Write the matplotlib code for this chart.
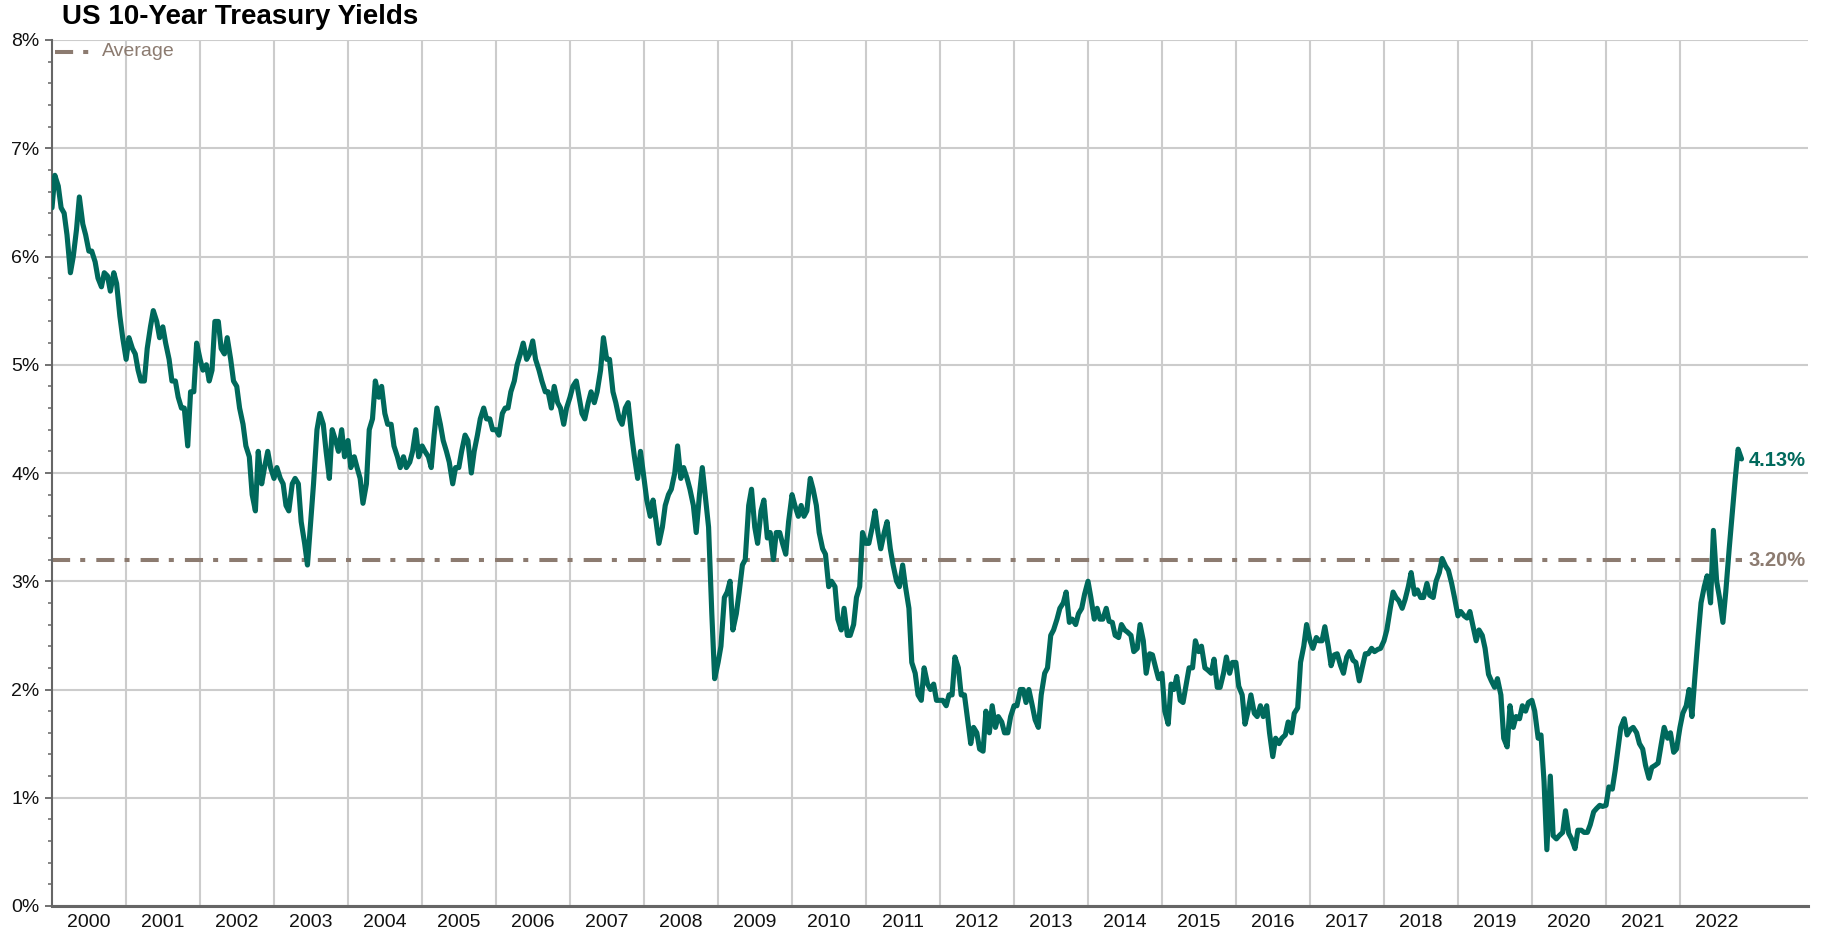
import matplotlib
matplotlib.use("Agg")
import matplotlib.pyplot as plt
from matplotlib.lines import Line2D
import pandas as pd

plt.rcParams['font.family'] = ['Liberation Sans', 'DejaVu Sans']

# ---------------- data (semi-monthly readings: 1st and 15th of each month) -------------
title_text = "US 10-Year Treasury Yields"
legend_label = "Average"
average_yield = 3.20
average_label = "3.20%"
last_label = "4.13%"

y2000 = [6.45, 6.75, 6.65, 6.45, 6.40, 6.20, 5.85, 6.00, 6.25, 6.55, 6.30, 6.20,
         6.05, 6.05, 5.95, 5.80, 5.72, 5.85, 5.82, 5.68, 5.85, 5.75, 5.45, 5.25]
y2001 = [5.05, 5.25, 5.15, 5.10, 4.95, 4.85, 4.85, 5.15, 5.35, 5.50, 5.40, 5.25,
         5.35, 5.20, 5.05, 4.85, 4.85, 4.70, 4.60, 4.60, 4.25, 4.75, 4.75, 5.20]
y2002 = [5.05, 4.95, 5.00, 4.85, 4.95, 5.40, 5.40, 5.15, 5.10, 5.25, 5.05, 4.85,
         4.80, 4.60, 4.45, 4.25, 4.15, 3.80, 3.65, 4.20, 3.90, 4.05, 4.20, 4.05]
y2003 = [3.95, 4.05, 3.95, 3.90, 3.70, 3.65, 3.90, 3.95, 3.90, 3.55, 3.35, 3.15,
         3.55, 3.90, 4.40, 4.55, 4.45, 4.20, 3.95, 4.40, 4.30, 4.20, 4.40, 4.15]
y2004 = [4.30, 4.05, 4.15, 4.05, 3.95, 3.72, 3.90, 4.40, 4.50, 4.85, 4.70, 4.80,
         4.55, 4.45, 4.45, 4.25, 4.15, 4.05, 4.15, 4.05, 4.10, 4.20, 4.40, 4.15]
y2005 = [4.25, 4.20, 4.15, 4.05, 4.35, 4.60, 4.45, 4.30, 4.20, 4.10, 3.90, 4.05,
         4.05, 4.20, 4.35, 4.30, 4.00, 4.20, 4.35, 4.50, 4.60, 4.50, 4.50, 4.40]
y2006 = [4.40, 4.35, 4.55, 4.60, 4.60, 4.75, 4.85, 5.00, 5.10, 5.20, 5.05, 5.10,
         5.22, 5.05, 4.95, 4.85, 4.75, 4.75, 4.60, 4.80, 4.65, 4.60, 4.45, 4.60]
y2007 = [4.70, 4.80, 4.85, 4.70, 4.55, 4.50, 4.65, 4.75, 4.65, 4.75, 4.95, 5.25,
         5.05, 5.05, 4.75, 4.65, 4.50, 4.45, 4.60, 4.65, 4.35, 4.15, 3.95, 4.20]
y2008 = [3.95, 3.75, 3.60, 3.75, 3.55, 3.35, 3.50, 3.70, 3.80, 3.85, 4.00, 4.25,
         3.95, 4.05, 3.95, 3.85, 3.70, 3.45, 3.80, 4.05, 3.75, 3.50, 2.70, 2.10]
y2009 = [2.25, 2.40, 2.85, 2.90, 3.00, 2.55, 2.70, 2.90, 3.15, 3.20, 3.70, 3.85,
         3.50, 3.35, 3.65, 3.75, 3.40, 3.45, 3.20, 3.45, 3.45, 3.35, 3.25, 3.55]
y2010 = [3.80, 3.70, 3.60, 3.70, 3.60, 3.65, 3.95, 3.85, 3.70, 3.45, 3.30, 3.25,
         2.95, 3.00, 2.95, 2.65, 2.55, 2.75, 2.50, 2.50, 2.60, 2.85, 2.95, 3.45]
y2011 = [3.35, 3.35, 3.50, 3.65, 3.45, 3.30, 3.45, 3.55, 3.30, 3.15, 3.00, 2.95,
         3.15, 2.95, 2.75, 2.25, 2.15, 1.95, 1.90, 2.20, 2.05, 2.00, 2.05, 1.90]
y2012 = [1.90, 1.90, 1.85, 1.95, 1.95, 2.30, 2.20, 1.95, 1.95, 1.75, 1.50, 1.65,
         1.60, 1.45, 1.43, 1.80, 1.60, 1.85, 1.65, 1.75, 1.70, 1.60, 1.60, 1.75]
y2013 = [1.85, 1.85, 2.00, 2.00, 1.88, 2.00, 1.85, 1.72, 1.65, 1.95, 2.15, 2.20,
         2.50, 2.55, 2.65, 2.75, 2.80, 2.90, 2.62, 2.65, 2.60, 2.70, 2.75, 2.88]
y2014 = [3.00, 2.85, 2.65, 2.75, 2.65, 2.65, 2.75, 2.63, 2.62, 2.50, 2.48, 2.60,
         2.55, 2.53, 2.50, 2.35, 2.38, 2.60, 2.45, 2.15, 2.33, 2.32, 2.20, 2.10]
y2015 = [2.15, 1.80, 1.68, 2.05, 2.00, 2.12, 1.90, 1.88, 2.05, 2.20, 2.20, 2.45,
         2.35, 2.40, 2.20, 2.18, 2.15, 2.28, 2.02, 2.02, 2.15, 2.30, 2.15, 2.25]
y2016 = [2.25, 2.03, 1.95, 1.68, 1.80, 1.95, 1.78, 1.75, 1.85, 1.75, 1.85, 1.60,
         1.38, 1.55, 1.50, 1.55, 1.58, 1.70, 1.60, 1.78, 1.83, 2.25, 2.40, 2.60]
y2017 = [2.45, 2.38, 2.48, 2.45, 2.45, 2.58, 2.40, 2.22, 2.32, 2.33, 2.22, 2.15,
         2.30, 2.35, 2.27, 2.25, 2.08, 2.20, 2.33, 2.33, 2.38, 2.35, 2.37, 2.38]
y2018 = [2.45, 2.55, 2.75, 2.90, 2.85, 2.82, 2.75, 2.83, 2.95, 3.08, 2.88, 2.92,
         2.85, 2.85, 2.98, 2.87, 2.85, 3.00, 3.08, 3.21, 3.14, 3.10, 2.98, 2.85]
y2019 = [2.68, 2.72, 2.68, 2.66, 2.72, 2.60, 2.45, 2.55, 2.50, 2.38, 2.14, 2.08,
         2.02, 2.10, 1.95, 1.55, 1.47, 1.85, 1.65, 1.75, 1.73, 1.85, 1.80, 1.88]
y2020 = [1.90, 1.80, 1.55, 1.58, 1.15, 0.52, 1.20, 0.65, 0.62, 0.65, 0.68, 0.88,
         0.67, 0.62, 0.53, 0.70, 0.70, 0.68, 0.68, 0.75, 0.87, 0.90, 0.93, 0.92]
y2021 = [0.93, 1.10, 1.08, 1.25, 1.45, 1.65, 1.73, 1.58, 1.63, 1.65, 1.60, 1.50,
         1.45, 1.30, 1.18, 1.28, 1.30, 1.32, 1.50, 1.65, 1.55, 1.60, 1.42, 1.45]
y2022 = [1.65, 1.78, 1.85, 2.00, 1.75, 2.10, 2.50, 2.80, 2.95, 3.05, 2.80, 3.47,
         3.00, 2.85, 2.62, 2.90, 3.30, 3.60, 3.95, 4.22, 4.13]

year_labels = [str(y) for y in range(2000, 2023)]
y_tick_values = [0, 1, 2, 3, 4, 5, 6, 7, 8]

yields = (y2000 + y2001 + y2002 + y2003 + y2004 + y2005 + y2006 + y2007 + y2008 +
          y2009 + y2010 + y2011 + y2012 + y2013 + y2014 + y2015 + y2016 + y2017 +
          y2018 + y2019 + y2020 + y2021 + y2022)
dates = [pd.Timestamp(2000 + i // 24, (i % 24) // 2 + 1, 1 if i % 2 == 0 else 15)
         for i in range(len(yields))]

# ---------------- styling -------------
TEAL = '#00695c'
BROWN = '#8c7b70'
GRID = '#cccccc'
AXIS = '#666666'
W, H = 1823, 933

fig = plt.figure(figsize=(W / 100, H / 100), dpi=100)
ax = fig.add_axes([52 / W, 27 / H, (1808 - 52) / W, (906 - 40) / H])

ax.set_ylim(0, 8)
ax.set_xlim(pd.Timestamp('2000-01-01'), pd.Timestamp('2023-09-25'))

# x axis: gridlines at year starts, labels at mid-year
year_starts = [pd.Timestamp(int(y) + 1, 1, 1) for y in year_labels[:-1]]
mid_years = [pd.Timestamp(int(y), 7, 2) for y in year_labels]
ax.set_xticks(year_starts)
ax.set_xticklabels([''] * len(year_starts))
ax.set_xticks(mid_years, minor=True)
ax.set_xticklabels(year_labels, minor=True)
ax.tick_params(axis='x', which='both', length=0)
ax.tick_params(axis='x', which='minor', labelsize=14, pad=6, labelcolor='#111111')

# y axis
ax.set_yticks(y_tick_values)
ax.set_yticklabels([f"{v}%" for v in y_tick_values])
ax.set_yticks([v / 5 for v in range(0, 41) if v % 5 != 0], minor=True)
ax.tick_params(axis='y', which='major', length=5, width=1.3, color=AXIS,
               labelsize=14, pad=4, labelcolor='#111111')
ax.tick_params(axis='y', which='minor', length=2.8, width=1.1, color=AXIS)

ax.grid(True, which='major', axis='both', color=GRID, linewidth=1.5)
ax.set_axisbelow(True)

for s in ['top', 'right']:
    ax.spines[s].set_visible(False)
ax.spines['left'].set_color(AXIS)
ax.spines['left'].set_linewidth(1.5)
ax.spines['bottom'].set_color(AXIS)
ax.spines['bottom'].set_linewidth(2.2)

# average line
dash_pattern = (4.5, 2.5, 1.25, 2.75)
avg_line, = ax.plot([dates[0], dates[-1]], [average_yield, average_yield],
                    color=BROWN, linewidth=2.9, zorder=2,
                    dash_capstyle='butt')
avg_line.set_dashes(dash_pattern)

# yield line
ax.plot(dates, yields, color=TEAL, linewidth=3.7, zorder=3,
        solid_joinstyle='round', solid_capstyle='round')

# end labels
ax.annotate(last_label, xy=(dates[-1], yields[-1]), xytext=(5, -1),
            textcoords='offset points', ha='left', va='center',
            fontsize=14.5, fontweight='bold', color=TEAL)
ax.annotate(average_label, xy=(dates[-1], average_yield), xytext=(5, -1),
            textcoords='offset points', ha='left', va='center',
            fontsize=14.5, fontweight='bold', color=BROWN)

# title
fig.text(62 / W, 1 - 17 / H, title_text, ha='left', va='center',
         fontsize=20, fontweight='bold', color='#000000')

# legend (manual)
leg_y = 1 - 52 / H
leg_line = Line2D([55 / W, 92 / W], [leg_y, leg_y], transform=fig.transFigure,
                  color=BROWN, linewidth=2.9, dash_capstyle='butt')
leg_line.set_dashes(dash_pattern)
fig.add_artist(leg_line)
fig.text(102 / W, leg_y, legend_label, ha='left', va='center',
         fontsize=14, color=BROWN)

fig.savefig('out.png', dpi=100)
